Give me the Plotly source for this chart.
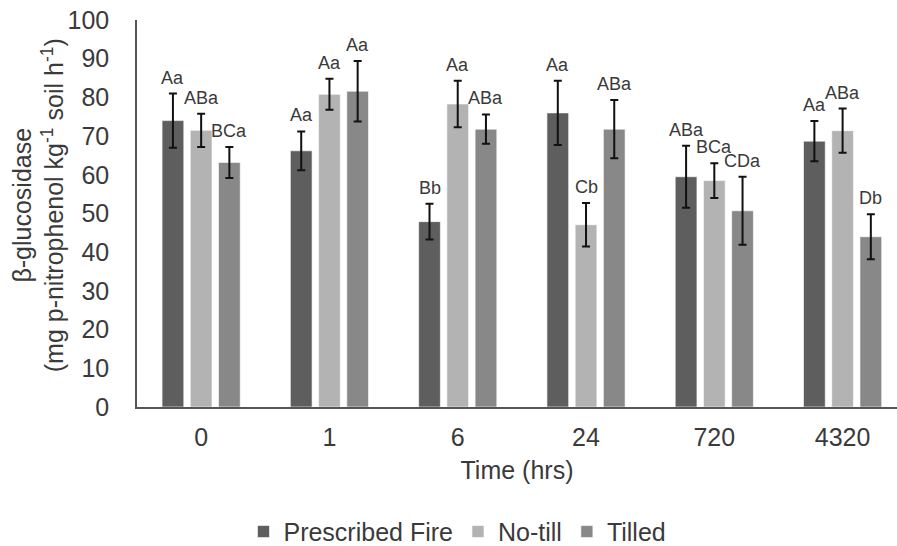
import plotly.graph_objects as go

times = ["0", "1", "6", "24", "720", "4320"]
series_names = ["Prescribed Fire", "No-till", "Tilled"]

fire_vals = [74.0, 66.2, 47.9, 76.0, 59.5, 68.7]
notill_vals = [71.5, 80.8, 78.3, 47.1, 58.5, 71.4]
tilled_vals = [63.2, 81.6, 71.8, 71.8, 50.7, 44.0]

fire_err = [7.0, 5.0, 4.6, 8.3, 8.0, 5.2]
notill_err = [4.3, 4.0, 6.0, 5.6, 4.5, 5.7]
tilled_err = [4.0, 7.8, 3.8, 7.5, 8.8, 5.8]

fire_labels = ["Aa", "Aa", "Bb", "Aa", "ABa", "Aa"]
notill_labels = ["ABa", "Aa", "Aa", "Cb", "BCa", "ABa"]
tilled_labels = ["BCa", "Aa", "ABa", "ABa", "CDa", "Db"]

y_title = "β-glucosidase<br>(mg p-nitrophenol kg<sup>-1</sup> soil h<sup>-1</sup>)"
x_title = "Time (hrs)"

colors = ["#5e5e5e", "#b3b3b3", "#888888"]

values = [fire_vals, notill_vals, tilled_vals]
errors = [fire_err, notill_err, tilled_err]
labels = [fire_labels, notill_labels, tilled_labels]

FONT = "Liberation Sans, Arial, sans-serif"
TXT = "#3a3a3a"
FS = 25

fig = go.Figure()
for k in range(3):
    fig.add_trace(go.Bar(
        x=times, y=values[k], name=series_names[k],
        marker=dict(color=colors[k], line=dict(color="rgba(255,255,255,0.6)", width=1)),
        error_y=dict(type="data", array=errors[k], visible=True,
                     color="#111111", thickness=2, width=4),
    ))

bargap = 0.34
slot = (1 - bargap) / 3
annotations = []
for k in range(3):
    for i in range(len(times)):
        annotations.append(dict(
            x=i + (k - 1) * slot, y=values[k][i] + errors[k][i],
            xref="x", yref="y", text=labels[k][i], showarrow=False,
            yanchor="bottom", xanchor="center", yshift=4,
            font=dict(family=FONT, size=18, color=TXT),
        ))

# y-axis title (placed as rotated text left of the tick labels)
annotations.append(dict(
    x=-0.1296, y=0.52, xref="paper", yref="paper", text=y_title,
    textangle=-90, showarrow=False, xanchor="center", yanchor="middle",
    font=dict(family=FONT, size=FS, color=TXT),
))

fig.update_layout(
    width=897, height=546,
    margin=dict(l=137, r=0, t=20, b=139, autoexpand=False),
    paper_bgcolor="white", plot_bgcolor="white",
    barmode="group", bargap=bargap, bargroupgap=0.23,
    font=dict(family=FONT, size=FS, color=TXT),
    showlegend=True,
    legend=dict(orientation="h", xref="container", x=0.51, xanchor="center",
                yref="container", y=0.026, yanchor="middle",
                font=dict(size=FS, color=TXT), itemwidth=30, traceorder="normal"),
    annotations=annotations,
    xaxis=dict(
        type="category", range=[-0.5, 5.424],
        showline=True, linecolor="#555555", linewidth=1.5,
        showgrid=False, ticks="", ticklabelstandoff=7,
        title=dict(text=x_title, standoff=12, font=dict(size=FS)),
        tickfont=dict(size=FS),
    ),
    yaxis=dict(
        range=[0, 100], tickvals=[0, 10, 20, 30, 40, 50, 60, 70, 80, 90, 100],
        showline=True, linecolor="#555555", linewidth=1.5,
        showgrid=False, zeroline=False, ticks="", ticklabelstandoff=21,
        tickfont=dict(size=FS),
    ),
)

fig.write_html("out.html", config={"displayModeBar": False},
               post_script="document.body.style.margin='0';document.body.style.overflow='hidden';")
